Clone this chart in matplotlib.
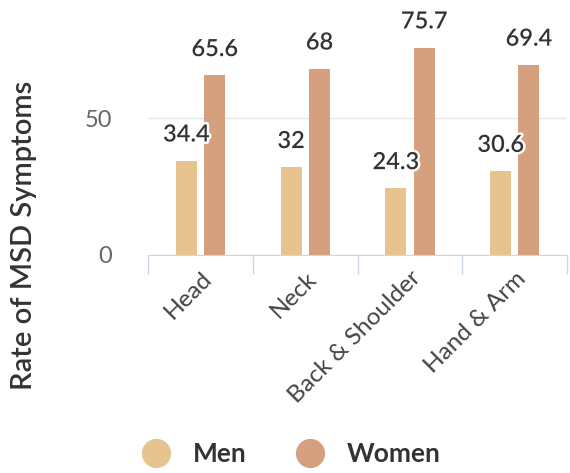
import matplotlib
matplotlib.use('Agg')
import matplotlib.pyplot as plt
import matplotlib.patheffects as pe
from matplotlib.lines import Line2D
import numpy as np

plt.rcParams['font.family'] = ['Lato', 'DejaVu Sans']

# data
categories = ["Head", "Neck", "Back & Shoulder", "Hand & Arm"]
men = [34.4, 32, 24.3, 30.6]
women = [65.6, 68, 75.7, 69.4]

men_color = '#e6c38f'
women_color = '#d5a07e'

fig = plt.figure(figsize=(5.7, 4.73), dpi=100)
ax = fig.add_axes([0.26, 0.461, 0.735, 0.463])

x = np.arange(len(categories))
w = 0.2
off = 0.135
b1 = ax.bar(x - off, men, width=w, color=men_color, zorder=3)
b2 = ax.bar(x + off, women, width=w, color=women_color, zorder=3)

halo = [pe.withStroke(linewidth=3.5, foreground='white')]
for bars, vals in ((b1, men), (b2, women)):
    for bar, v in zip(bars, vals):
        ax.annotate(f'{v:g}', xy=(bar.get_x() + bar.get_width() / 2, v),
                    xytext=(0, 11), textcoords='offset points',
                    ha='center', va='bottom', fontsize=17, fontweight='semibold',
                    color='#333333', path_effects=halo, zorder=4)

ax.set_xlim(-0.5, 3.5)
ax.set_ylim(0, 80)
ax.set_yticks([0, 50])
ax.tick_params(axis='y', length=0, labelsize=17, labelcolor='#666666', pad=26)
ax.yaxis.grid(True, color='#e6e6e6', linewidth=1, zorder=0)

# category boundary ticks
ax.set_xticks(np.arange(len(categories) + 1) - 0.5)
ax.set_xticklabels([])
ax.tick_params(axis='x', length=14, width=1, color='#ccd6eb', direction='out')
ax.set_xticks(x, minor=True)
ax.set_xticklabels(categories, minor=True, rotation=45, ha='right',
                   rotation_mode='anchor', fontsize=17.5, color='#444444')
ax.tick_params(axis='x', which='minor', length=0, pad=9)

for s in ('top', 'right', 'left'):
    ax.spines[s].set_visible(False)
ax.spines['bottom'].set_color('#ccd6eb')

ax.set_ylabel('Rate of MSD Symptoms', fontsize=21, fontweight='semibold', color='#333333')
ax.yaxis.set_label_coords(-0.265, 0.09)

handles = [Line2D([], [], marker='o', linestyle='', markersize=20, color=men_color),
           Line2D([], [], marker='o', linestyle='', markersize=20, color=women_color)]
fig.legend(handles, ['Men', 'Women'], loc='lower center', bbox_to_anchor=(0.5, -0.035),
           ncol=2, frameon=False, handletextpad=0.4, columnspacing=1.4,
           prop={'size': 19, 'weight': 'bold'}, labelcolor='#333333')

fig.savefig('out.png', dpi=100)
